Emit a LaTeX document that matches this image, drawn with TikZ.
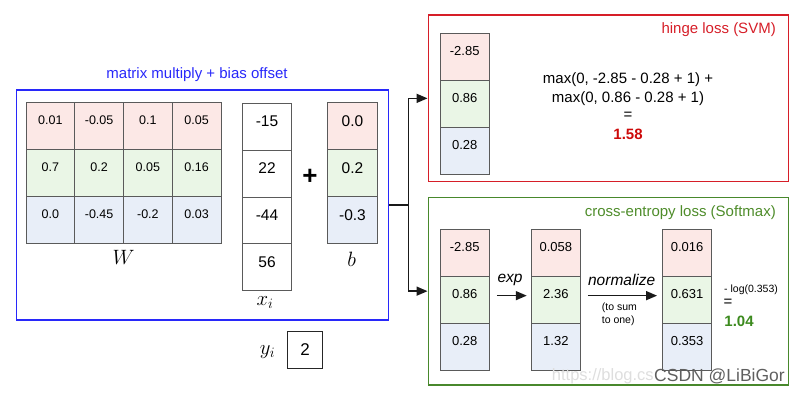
\documentclass[tikz,border=0pt]{standalone}
\usepackage{fontspec}
\setmainfont{Liberation Sans}
\usetikzlibrary{arrows.meta,calc}
\definecolor{rowA}{RGB}{252,232,230}
\definecolor{rowB}{RGB}{234,246,230}
\definecolor{rowC}{RGB}{232,238,248}
\definecolor{cellgray}{RGB}{90,90,90}
\definecolor{bluef}{RGB}{40,40,250}
\definecolor{redf}{RGB}{214,30,40}
\definecolor{greenf}{RGB}{72,136,44}
\definecolor{greent}{RGB}{78,140,42}
\definecolor{greenb}{RGB}{60,138,30}
\definecolor{redb}{RGB}{205,10,10}
\definecolor{wmgray}{RGB}{95,95,95}
\definecolor{wmlight}{RGB}{222,222,222}
\begin{document}
\begin{tikzpicture}[x=1pt,y=-1pt,
  cellbase/.style={draw=cellgray, line width=0.9pt, inner sep=0pt, text height=22pt, text depth=24.9pt, minimum height=46.9pt},
  wcell/.style={cellbase, minimum width=48.75pt, font=\fontsize{12.5}{14}\selectfont},
  vcell/.style={cellbase, minimum width=49.5pt, text height=23.5pt, text depth=23.4pt, font=\fontsize{15.5}{18}\selectfont},
  lcell/.style={cellbase, minimum width=49.3pt, font=\fontsize{13}{15}\selectfont},
  frame/.style={inner sep=0pt, line width=1.5pt},
  conn/.style={draw=black!90, line width=1.5pt},
  tip/.style={-{Triangle[length=11pt,width=9pt]}},
  ttl/.style={font=\fontsize{15}{18}\selectfont},
  mathlab/.style={font=\fontsize{21}{21}\selectfont, inner sep=0pt},
  txt/.style={font=\fontsize{15}{18}\selectfont, inner sep=0pt}
]
\useasboundingbox (0,0) rectangle (803,393);

% ---------- frames ----------
\node[frame, draw=bluef, minimum width=372pt, minimum height=230pt] (mm) at (202.7,205) {};
\node[frame, draw=redf, minimum width=360pt, minimum height=166.7pt] (svm) at (608.3,98.35) {};
\node[frame, draw=greenf, minimum width=360pt, minimum height=187.7pt] (ce) at (608.3,291.15) {};

\node[ttl, text=bluef] (mmtitle) at (197,75) {matrix multiply + bias offset};
\node[ttl, text=redf, anchor=east] (svmtitle) at (779.3,29.3) {hinge loss (SVM)};
\node[ttl, text=greent, anchor=east] (cetitle) at (779.3,212.7) {cross-entropy loss (Softmax)};

% ---------- W ----------
\foreach \r/\fc/\vals in {1/rowA/{0.01,-0.05,0.1,0.05}, 2/rowB/{0.7,0.2,0.05,0.16}, 3/rowC/{0.0,-0.45,-0.2,0.03}}{
  \foreach \v [count=\c] in \vals {
    \node[wcell, fill=\fc] (w-\r-\c) at ({26+(\c-0.5)*48.75},{102.7+(\r-0.5)*46.87}) {\v};
  }
}
\node[mathlab] (Wlab) at (123.5,257) {$W$};

% ---------- x_i ----------
\foreach \v [count=\r] in {-15,22,-44,56}{
  \node[vcell, fill=white] (x-\r) at (267,{103.3+(\r-0.5)*46.85}) {\v};
}
\node[mathlab] (xlab) at (265,302.5) {$x_i$};

\node[font=\fontsize{26}{26}\selectfont\bfseries, inner sep=0pt] (plus) at (310,177) {+};

% ---------- b ----------
\foreach \v/\fc [count=\r] in {0.0/rowA,0.2/rowB,-0.3/rowC}{
  \node[vcell, fill=\fc] (b-\r) at (352.5,{103+(\r-0.5)*46.8}) {\v};
}
\node[mathlab] (blab) at (351.7,259) {$b$};

% ---------- y_i ----------
\node[mathlab] (ylab) at (267.5,352) {$y_i$};
\node[draw=black!85, line width=0.9pt, minimum width=35pt, minimum height=37pt, inner sep=0pt, font=\fontsize{17}{20}\selectfont] (ybox) at (305,350) {2};

% ---------- connectors ----------
\coordinate (split) at (408.3,205);
\draw[conn] (mm.east) -- (split);
\draw[conn, tip] (split) |- (svm.west);
\draw[conn, tip] (split) |- (ce.west);

% ---------- hinge loss ----------
\foreach \v/\fc [count=\r] in {-2.85/rowA,0.86/rowB,0.28/rowC}{
  \node[lcell, fill=\fc] (h-\r) at (464.7,{33.3+(\r-0.5)*46.9}) {\v};
}
\node[txt] (hl1) at (628,80) {max(0, -2.85 - 0.28 + 1) +};
\node[txt] (hl2) at (628,99) {max(0, 0.86 - 0.28 + 1)};
\node[txt] (hl3) at (628,116) {=};
\node[txt, text=redb, font=\fontsize{15}{18}\selectfont\bfseries] (hl4) at (628,134.3) {1.58};

% ---------- cross-entropy ----------
\foreach \v/\fc [count=\r] in {-2.85/rowA,0.86/rowB,0.28/rowC}{
  \node[lcell, fill=\fc] (s-\r) at (464.7,{229.3+(\r-0.5)*46.9}) {\v};
}
\foreach \v/\fc [count=\r] in {0.058/rowA,2.36/rowB,1.32/rowC}{
  \node[lcell, fill=\fc] (e-\r) at (555.85,{229.3+(\r-0.5)*46.9}) {\v};
}
\foreach \v/\fc [count=\r] in {0.016/rowA,0.631/rowB,0.353/rowC}{
  \node[lcell, fill=\fc] (p-\r) at (687.15,{229.3+(\r-0.5)*46.9}) {\v};
}
\draw[conn, tip] ($(s-2.east)+(7,-4)$) -- ($(e-2.west)+(-4,-4)$);
\draw[conn, tip] ($(e-2.east)+(7,-4)$) -- ($(p-2.west)+(-5,-4)$);
\node[txt, font=\fontsize{15.5}{18}\selectfont\itshape] (explab) at (510,280) {exp};
\node[txt, font=\fontsize{15.5}{18}\selectfont\itshape] (normlab) at (621.7,280) {normalize};
\node[inner sep=0pt, anchor=west, align=left, font=\fontsize{10.5}{12.7}\selectfont] (tosum) at (601.7,314.3) {(to sum\\to one)};
\node[inner sep=0pt, anchor=west, font=\fontsize{10.5}{12.7}\selectfont] (loglab) at (724,289.3) {- log(0.353)};
\node[txt] (eq2) at (728,303) {=};
\node[txt, text=greenb, font=\fontsize{15}{18}\selectfont\bfseries] (celoss) at (739,321.7) {1.04};

% ---------- watermark ----------
\node[inner sep=0pt, anchor=west, text=wmlight, font=\fontsize{16.5}{20}\selectfont] (wm1) at (551.7,376.7) {https://blog.cs};
\node[inner sep=0pt, anchor=west, text=wmgray, font=\fontsize{17.5}{20}\selectfont] (wm2) at (654,376.7) {CSDN @LiBiGor};
\end{tikzpicture}
\end{document}
